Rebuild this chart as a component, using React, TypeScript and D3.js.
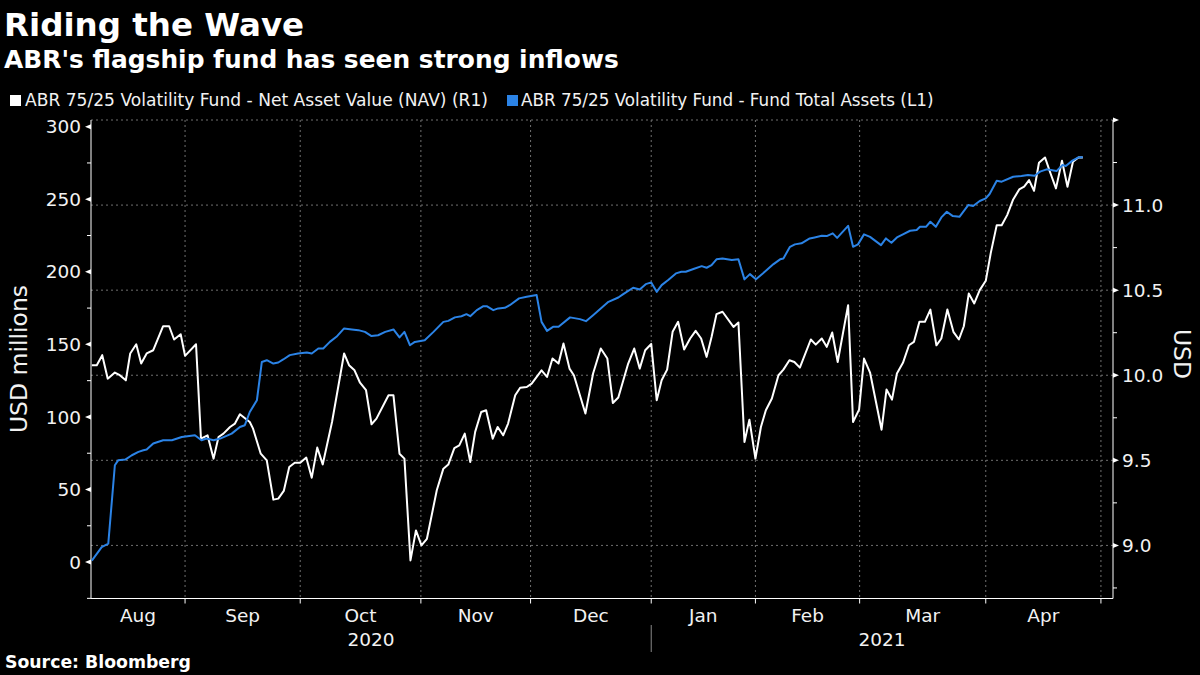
import React from "react";
import * as d3 from "d3";

// ---- Data (x = US trading-day index from 7 Aug 2020) ----
const navDay = [0,0.9,1.9,2.9,4.2,5.1,6.2,7,8.1,9,10,11.2,13,14.1,15,16.2,17,19,19.9,21.1,22.2,23.1,24,25.2,26.1,27,28.8,29.4,30.8,31.9,33.1,34,35,36,37,38,39.1,40.1,41.1,42.1,43.8,46,46.9,47.9,48.9,50,51,51.9,54.1,55,56.1,57,58.1,59.1,60.1,61.1,62.9,64.1,65,66.1,67,68,69,69.9,71,71.9,73.1,74,75,75.9,77.2,78.1,79.3,80.2,82,83,84,85.1,86,87.1,87.9,90,91.4,92.8,94,95,96,97.8,98.9,99.9,100.9,102,103,103.9,104.9,105.9,106.9,108,109.1,110.1,111.1,112.1,113,113.9,115,117,117.9,119,119.9,121,122,122.9,124,125.2,126.1,127.2,128.1,129.1,131.1,132,133.1,134,135,136,137.9,138.8,139.9,140.8,141.9,144,144.9,145.9,146.8,147.9,149,149.9,150.9,151.9,152.9,154,154.9,156,157.1,158.1,159,159.9,160.9,161.9,163,163.9,165,165.9,166.9,168,169.1,170,170.9,171.8,172.7,173.8,174.7,175.8,176.9,177.9,178.9,179.9,180.7];
const navUsd = [10.059,10.059,10.118,9.98,10.016,10.0,9.97,10.128,10.182,10.069,10.128,10.147,10.288,10.288,10.21,10.241,10.114,10.182,9.628,9.647,9.51,9.637,9.657,9.696,9.716,9.771,9.725,9.686,9.539,9.5,9.269,9.275,9.32,9.461,9.486,9.486,9.516,9.398,9.575,9.476,9.725,10.128,10.059,10.029,9.956,9.912,9.712,9.745,9.882,9.882,9.539,9.51,8.912,9.088,9.0,9.039,9.324,9.451,9.475,9.572,9.588,9.657,9.49,9.667,9.784,9.794,9.627,9.696,9.647,9.716,9.882,9.927,9.931,9.951,10.029,9.99,10.098,10.069,10.186,10.039,10.0,9.775,10.01,10.157,10.098,9.837,9.869,10.069,10.157,10.039,10.147,10.184,9.853,9.971,10.033,10.255,10.314,10.151,10.216,10.261,10.216,10.108,10.225,10.359,10.373,10.284,10.31,9.608,9.739,9.51,9.696,9.794,9.863,10.0,10.033,10.088,10.078,10.045,10.21,10.18,10.216,10.167,10.251,10.078,10.412,9.725,9.798,10.098,10.016,9.68,9.916,9.857,10.01,10.073,10.176,10.196,10.314,10.314,10.386,10.176,10.216,10.386,10.255,10.21,10.288,10.48,10.422,10.5,10.555,10.716,10.882,10.882,10.941,11.033,11.092,11.108,11.147,11.084,11.249,11.28,11.196,11.098,11.261,11.108,11.255,11.28,11.28];

const assetsDay = [0,1.8,3,4.2,4.8,6.1,7.3,8.5,9.4,10,11.2,13,14.6,16.4,18.8,20,20.9,22.2,23.4,25.5,27,27.9,28.8,30.1,31,31.9,33.1,34,34.9,36.1,37.6,39.2,40.1,41.3,42.2,43.4,44.6,46,47.4,48.6,49.8,51,52.2,53.5,55,56.1,57,58,58.9,60.7,62.3,64.1,65,66.2,67.4,68.3,69,70.2,71.4,72,73.2,74.1,75.3,76.2,77.9,79.3,81.1,82,83,84.1,85.1,87.2,89,90.1,91.4,94.2,96,96.9,98.7,99.9,101,102,103,103.9,105.1,106.5,107.5,108.3,109.7,111.2,112.1,113,113.9,115,116.7,117.9,119,120,121.1,122.7,124.3,125.5,126.1,127.3,128.2,129.4,130.9,131.8,133.1,134,135.1,135.9,137.9,138.8,139.7,140.8,141.9,143.9,144.8,145.8,146.8,147.9,149.2,150.4,151,152.1,152.9,153.9,154.9,155.9,157,158.2,159.8,160.7,161.9,163,163.7,165,165.9,168,169.5,170.7,171.9,172.9,174.1,175.9,177,177.6,178.8,179.9,180.7];
const assetsUsd = [1,10.3,12.7,66.7,70.1,70.6,73.6,75.9,77,77.5,81.7,83.9,83.9,86.2,87.4,83.9,85.1,83.9,85.1,88.5,93.1,94.3,103.4,111.5,137.9,139.1,136.8,137.5,139.6,142.6,143.7,144.4,143.7,147.2,147.2,151.7,155.2,161,160.3,159.8,158.6,155.7,156.3,158.6,160.3,154.8,158.6,149.4,151.7,152.9,158.6,165.5,166.2,168.6,169.4,170.8,169.4,173.6,176.3,176.3,173.6,174.8,175.2,177,181.7,182.8,184,165.5,159.3,162.1,162.1,168.6,167.4,166,170.1,179.3,182.3,184.6,189,187.8,191.5,192.7,186.2,190.8,194.3,198.9,200,200,201.9,203.9,202.8,204.6,208.6,209.2,208.1,208.6,194.8,198.4,194.8,200,205.3,208.6,209.2,217.2,218.9,219.6,223,223.7,224.8,224.6,226.5,223.4,231.7,217.2,218.9,225.8,224.1,218.4,223,220,223.7,225.8,228.3,228.8,231,231,234.5,231,237.5,241.4,238.4,237.9,246,245.3,248.8,250.6,253.6,262.8,262.1,265.5,266,266.7,266.2,269,270.6,269.4,273.6,272.9,276.6,278.9,278.9];

const monthTickDays = [17, 38, 60, 80, 102, 121, 140, 163, 184];
const monthLabels = ["Aug", "Sep", "Oct", "Nov", "Dec", "Jan", "Feb", "Mar", "Apr"];
const yearLabels = ["2020", "2021"];
const yearBoundaryDay = 102;
const leftTicks = [0, 50, 100, 150, 200, 250, 300];
const leftMinorTicks = [-25, 25, 75, 125, 175, 225, 275];
const rightTicks = [9.0, 9.5, 10.0, 10.5, 11.0, 11.5];
const rightLabels = ["9.0", "9.5", "10.0", "10.5", "11.0", ""];
const rightMinorTicks = [8.75, 9.25, 9.75, 10.25, 10.75, 11.25];

const legendItems = [
  { label: "ABR 75/25 Volatility Fund - Net Asset Value (NAV) (R1)", color: "#ffffff" },
  { label: "ABR 75/25 Volatility Fund - Fund Total Assets (L1)", color: "#2b83e6" },
];

const W = 1200, H = 675;
const L = 91, R = 1113, T = 120, B = 598.5;
const FONT = "'DejaVu Sans', 'Open Sans', sans-serif";
const TXT = "#f2f2f2";
const GRID = "#707070";

export default function App() {
  const x = d3.scaleLinear().domain([-0.15, 186.2]).range([L, R]);
  const yL = d3.scaleLinear().domain([-25.1, 304.6]).range([B, T]);
  const yR = d3.scaleLinear().domain([8.688, 11.5]).range([B, T]);

  const navLine = d3.line<number>().x((_, i) => x(navDay[i])).y((v) => yR(v));
  const assetsLine = d3.line<number>().x((_, i) => x(assetsDay[i])).y((v) => yL(v));

  const bounds = [-0.15, ...monthTickDays];
  const yearBounds = [[-0.15, yearBoundaryDay], [yearBoundaryDay, 186.2]];

  return (
    <svg width={W} height={H} style={{ display: "block", position: "absolute", left: 0, top: 0, background: "#000" }} fontFamily={FONT}>
      <rect width={W} height={H} fill="#000" />
      <text x={4} y={36} fill="#fff" fontSize={32.5} fontWeight={700}>Riding the Wave</text>
      <text x={4} y={68} fill="#fff" fontSize={24.9} fontWeight={700}>ABR's flagship fund has seen strong inflows</text>

      {/* legend */}
      <rect x={10} y={95} width={11} height={11} fill={legendItems[0].color} />
      <text x={25} y={106} fill={TXT} fontSize={17.1}>{legendItems[0].label}</text>
      <rect x={507} y={95} width={11} height={11} fill={legendItems[1].color} />
      <text x={521} y={106} fill={TXT} fontSize={16.8}>{legendItems[1].label}</text>

      {/* grid */}
      {rightTicks.map((t) => (
        <line key={"hg" + t} x1={L} x2={R} y1={yR(t)} y2={yR(t)} stroke={GRID} strokeDasharray="2,3" strokeWidth={1} />
      ))}
      {monthTickDays.map((d) => (
        <line key={"vg" + d} x1={x(d)} x2={x(d)} y1={T} y2={B} stroke={GRID} strokeDasharray="2,3" strokeWidth={1} />
      ))}

      {/* axes */}
      <line x1={L} x2={L} y1={T} y2={B} stroke="#fff" strokeWidth={1} />
      <line x1={R} x2={R} y1={T} y2={B} stroke="#fff" strokeWidth={1} />
      <line x1={L} x2={R} y1={B} y2={B} stroke="#fff" strokeWidth={1} />

      {leftTicks.map((t) => (
        <g key={"lt" + t}>
          <path d={`M${L},${yL(t) - 2.5}L${L - 6},${yL(t)}L${L},${yL(t) + 2.5}Z`} fill="#fff" />
          <text x={81} y={yL(t)} dy="0.36em" textAnchor="end" fill={TXT} fontSize={18.5}>{t}</text>
        </g>
      ))}
      {leftMinorTicks.map((t) => (
        <line key={"lm" + t} x1={L - 4} x2={L} y1={yL(t)} y2={yL(t)} stroke="#fff" />
      ))}
      {rightTicks.map((t, i) => (
        <g key={"rt" + t}>
          <path d={`M${R},${yR(t) - 2.5}L${R + 6},${yR(t)}L${R},${yR(t) + 2.5}Z`} fill="#fff" />
          <text x={1122} y={yR(t)} dy="0.36em" fill={TXT} fontSize={18.5}>{rightLabels[i]}</text>
        </g>
      ))}
      {rightMinorTicks.map((t) => (
        <line key={"rm" + t} x1={R} x2={R + 4} y1={yR(t)} y2={yR(t)} stroke="#fff" />
      ))}

      {/* x axis */}
      {monthTickDays.map((d) => (
        <line key={"xt" + d} x1={x(d)} x2={x(d)} y1={B} y2={B + 5} stroke="#fff" />
      ))}
      {monthLabels.map((m, i) => (
        <text key={m} x={(x(bounds[i]) + x(bounds[i + 1])) / 2} y={622} textAnchor="middle" fill={TXT} fontSize={18.5}>{m}</text>
      ))}
      {yearLabels.map((yl, i) => (
        <text key={yl} x={(x(yearBounds[i][0]) + x(yearBounds[i][1])) / 2} y={646} textAnchor="middle" fill={TXT} fontSize={18.5}>{yl}</text>
      ))}
      <line x1={x(yearBoundaryDay)} x2={x(yearBoundaryDay)} y1={625} y2={652} stroke="#888" />

      {/* axis titles */}
      <text transform="translate(27,359) rotate(-90)" textAnchor="middle" fill={TXT} fontSize={23.5}>USD millions</text>
      <text transform="translate(1174,354) rotate(90)" textAnchor="middle" fill={TXT} fontSize={23.5}>USD</text>

      {/* series */}
      <path d={navLine(navUsd) || ""} fill="none" stroke="#ffffff" strokeWidth={2} strokeLinejoin="round" />
      <path d={assetsLine(assetsUsd) || ""} fill="none" stroke="#2b83e6" strokeWidth={2} strokeLinejoin="round" />

      <text x={5} y={668} fill="#fff" fontSize={17.3} fontWeight={700}>Source: Bloomberg</text>
    </svg>
  );
}
